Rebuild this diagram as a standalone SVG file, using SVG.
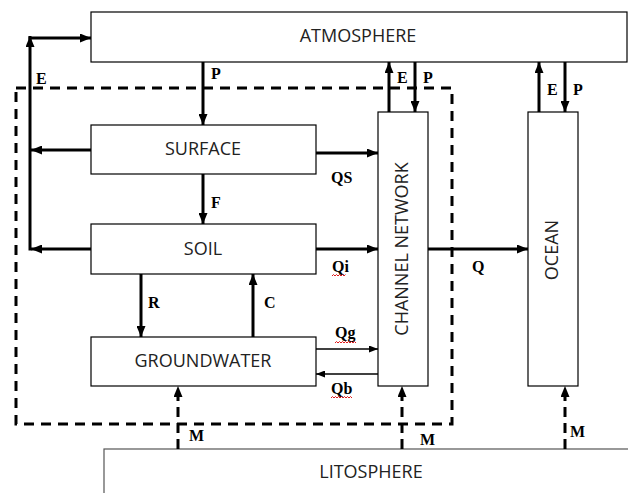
<svg xmlns="http://www.w3.org/2000/svg" width="628" height="493" viewBox="0 0 628 493">
<style>
.box{fill:#fff;stroke:#000;stroke-width:1.2}
.lito{fill:#fff;stroke:#555;stroke-width:1.2}
.name{font-family:"Open Sans","Noto Sans",sans-serif;font-size:18px;fill:#222}
.lbl{font-family:"Liberation Serif","Times New Roman",serif;font-size:16px;font-weight:bold;fill:#000}
.arr{stroke:#000;stroke-width:3;fill:none;marker-end:url(#ah)}
.thin{stroke:#000;stroke-width:1.5;fill:none;marker-end:url(#ahs)}
.dash{stroke:#000;stroke-width:3;fill:none;stroke-dasharray:10,6;marker-end:url(#ah)}
.frame{fill:none;stroke:#000;stroke-width:3;stroke-dasharray:10,7}
.sq{fill:none;stroke:#d00;stroke-width:0.9}
</style>
<defs>
<marker id="ah" markerUnits="userSpaceOnUse" markerWidth="11" markerHeight="9" refX="11" refY="4.5" orient="auto">
<path d="M0,0 L11,4.5 L0,9 z" fill="#000" stroke="none"/>
</marker>
<marker id="ahs" markerUnits="userSpaceOnUse" markerWidth="9" markerHeight="7" refX="9" refY="3.5" orient="auto">
<path d="M0,0 L9,3.5 L0,7 z" fill="#000" stroke="none"/>
</marker>
</defs>
<rect x="0" y="0" width="628" height="493" fill="#fff"/>

<g id="subsurface-boundary">
<rect class="frame" x="16" y="88" width="436" height="336"/>
</g>

<g id="litosphere">
<rect class="lito" x="104" y="449" width="540" height="60"/>
<text class="name" x="371" y="478" text-anchor="middle">LITOSPHERE</text>
</g>

<g id="atmosphere">
<rect class="box" x="91" y="12" width="536" height="50"/>
<text class="name" x="358" y="42" text-anchor="middle">ATMOSPHERE</text>
</g>

<g id="surface">
<rect class="box" x="91" y="125" width="225" height="49"/>
<text class="name" x="203" y="155" text-anchor="middle">SURFACE</text>
</g>

<g id="soil">
<rect class="box" x="91" y="224" width="225" height="50"/>
<text class="name" x="203" y="255" text-anchor="middle">SOIL</text>
</g>

<g id="groundwater">
<rect class="box" x="91" y="337" width="225" height="49"/>
<text class="name" x="203" y="367" text-anchor="middle">GROUNDWATER</text>
</g>

<g id="channel-network">
<rect class="box" x="378" y="112" width="50" height="274"/>
<text class="name" transform="translate(408,249) rotate(-90)" text-anchor="middle">CHANNEL NETWORK</text>
</g>

<g id="ocean">
<rect class="box" x="528" y="112" width="50" height="274"/>
<text class="name" transform="translate(558,250) rotate(-90)" text-anchor="middle">OCEAN</text>
</g>

<g id="connectors">
<line class="arr" x1="203" y1="62" x2="203" y2="125"/>
<line class="arr" x1="203" y1="174" x2="203" y2="224"/>
<line class="arr" x1="141" y1="274" x2="141" y2="337"/>
<line class="arr" x1="253" y1="337" x2="253" y2="274"/>
<line class="arr" x1="91" y1="150" x2="31" y2="150"/>
<line class="arr" x1="91" y1="249" x2="31" y2="249"/>
<line class="arr" x1="30" y1="250.5" x2="30" y2="36"/>
<line class="arr" x1="28.5" y1="38" x2="91" y2="38"/>
<line class="arr" x1="389" y1="112" x2="389" y2="62"/>
<line class="arr" x1="415" y1="62" x2="415" y2="112"/>
<line class="arr" x1="539" y1="112" x2="539" y2="62"/>
<line class="arr" x1="565" y1="62" x2="565" y2="112"/>
<line class="arr" x1="316" y1="153" x2="378" y2="153"/>
<line class="arr" x1="316" y1="249" x2="378" y2="249"/>
<line class="arr" x1="428" y1="249" x2="528" y2="249"/>
<line class="thin" x1="316" y1="349" x2="378" y2="349"/>
<line class="thin" x1="378" y1="374" x2="316" y2="374"/>
<line class="dash" x1="178" y1="449" x2="178" y2="386"/>
<line class="dash" x1="402" y1="449" x2="402" y2="386"/>
<line class="dash" x1="565" y1="449" x2="565" y2="386"/>
</g>

<g id="labels">
<text class="lbl" x="36" y="84">E</text>
<text class="lbl" x="211" y="79">P</text>
<text class="lbl" x="211" y="208">F</text>
<text class="lbl" x="148" y="308">R</text>
<text class="lbl" x="264" y="308">C</text>
<text class="lbl" x="189" y="441">M</text>
<text class="lbl" x="397" y="83">E</text>
<text class="lbl" x="423" y="83">P</text>
<text class="lbl" x="547" y="95">E</text>
<text class="lbl" x="573" y="95">P</text>
<text class="lbl" x="331" y="183">QS</text>
<text class="lbl" x="332" y="272">Qi</text>
<text class="lbl" x="472" y="272">Q</text>
<text class="lbl" x="335" y="338">Qg</text>
<text class="lbl" x="331" y="394">Qb</text>
<text class="lbl" x="420" y="445">M</text>
<text class="lbl" x="570" y="437">M</text>
<path class="sq" d="M332,276 l1.5,-1.5 l1.5,1.5 l1.5,-1.5 l1.5,1.5 l1.5,-1.5 l1.5,1.5 l1.5,-1.5 l1.5,1.5 l1.5,-1.5"/>
<path class="sq" d="M335,343 l1.5,-1.5 l1.5,1.5 l1.5,-1.5 l1.5,1.5 l1.5,-1.5 l1.5,1.5 l1.5,-1.5 l1.5,1.5 l1.5,-1.5 l1.5,1.5 l1.5,-1.5 l1.5,1.5 l1.5,-1.5 l1.5,1.5"/>
<path class="sq" d="M331,398 l1.5,-1.5 l1.5,1.5 l1.5,-1.5 l1.5,1.5 l1.5,-1.5 l1.5,1.5 l1.5,-1.5 l1.5,1.5 l1.5,-1.5 l1.5,1.5 l1.5,-1.5 l1.5,1.5 l1.5,-1.5 l1.5,1.5"/>
</g>
</svg>
